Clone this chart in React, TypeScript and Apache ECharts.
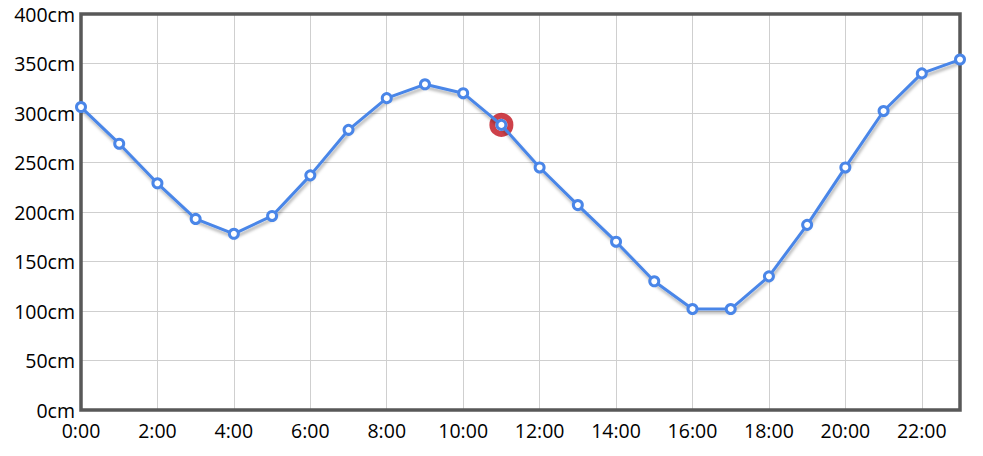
import React, { useEffect, useRef } from "react";
import * as echarts from "echarts";

const hours: string[] = [
  "0:00", "1:00", "2:00", "3:00", "4:00", "5:00", "6:00", "7:00", "8:00", "9:00", "10:00", "11:00",
  "12:00", "13:00", "14:00", "15:00", "16:00", "17:00", "18:00", "19:00", "20:00", "21:00", "22:00", "23:00",
];
const tideLevels: number[] = [
  306, 269, 229, 193, 178, 196, 237, 283, 315, 329, 320, 288,
  245, 207, 170, 130, 102, 102, 135, 187, 245, 302, 340, 354,
];
const highlightIndex = 11;

export default function App() {
  const ref = useRef<HTMLDivElement>(null);
  useEffect(() => {
    if (!ref.current) return;
    const chart = echarts.init(ref.current, null, { renderer: "svg" });
    const font = "Open Sans";
    chart.setOption({
      animation: false,
      grid: {
        left: 81,
        right: 23,
        top: 14,
        bottom: 46,
        show: true,
        borderColor: "#585858",
        borderWidth: 3.5,
        backgroundColor: "transparent",
        z: 3,
      },
      xAxis: {
        type: "category",
        data: hours,
        boundaryGap: false,
        axisLine: { show: false },
        axisTick: { show: false },
        axisLabel: { interval: 1, color: "#000", fontSize: 19.5, fontFamily: font, margin: 10 },
        splitLine: { show: true, interval: 1, lineStyle: { color: "#cfcfcf", width: 1 } },
      },
      yAxis: {
        type: "value",
        min: 0,
        max: 400,
        interval: 50,
        axisLine: { show: false },
        axisTick: { show: false },
        axisLabel: { formatter: "{value}cm", color: "#000", fontSize: 19.5, fontFamily: font, margin: 6 },
        splitLine: { show: true, lineStyle: { color: "#cfcfcf", width: 1 } },
      },
      series: [
        {
          type: "scatter",
          data: [[highlightIndex, tideLevels[highlightIndex]]],
          symbol: "circle",
          symbolSize: 18,
          itemStyle: { color: "#fff", borderColor: "#c0121d", borderWidth: 6 },
          z: 4,
        },
        {
          type: "line",
          data: tideLevels,
          symbol: "circle",
          symbolSize: 9,
          showSymbol: true,
          lineStyle: {
            color: "#4a86e8",
            width: 3,
            shadowColor: "rgba(0,0,0,0.3)",
            shadowBlur: 3,
            shadowOffsetX: 1,
            shadowOffsetY: 3,
          },
          itemStyle: { color: "#fff", borderColor: "#4a86e8", borderWidth: 3 },
          z: 5,
        },
      ],
    });
    return () => chart.dispose();
  }, []);
  return (
    <div
      ref={ref}
      style={{ position: "fixed", left: 0, top: 0, width: 983, height: 456, background: "#fff" }}
    />
  );
}
